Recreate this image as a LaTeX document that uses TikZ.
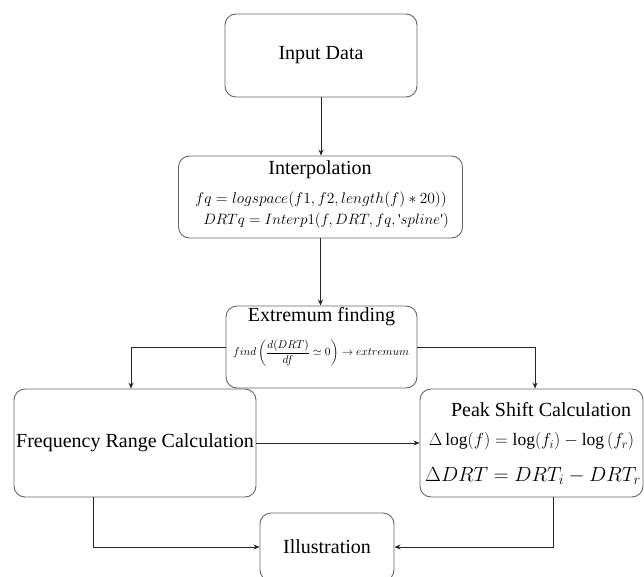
\documentclass[tikz,border=0pt]{standalone}
\usepackage{fix-cm}
\usepackage{amsmath}
\usepackage{fontspec}
\setmainfont{Liberation Serif}
\newfontfamily\titlefont{Liberation Serif}
\usetikzlibrary{arrows.meta,calc}
\begin{document}
\begin{tikzpicture}[x=1pt,y=-1pt,
  box/.style={draw=black!60, line width=0.9pt, rounded corners=11pt, inner sep=0pt},
  ttl/.style={font=\titlefont\fontsize{20}{24}\selectfont, inner sep=0pt},
  eqn/.style={inner sep=0pt},
  conn/.style={draw=black!85, line width=0.8pt, -{Stealth[length=6pt,width=5pt]}}
]
\useasboundingbox (0,0) rectangle (644,577);
% boxes
\node[box, minimum width=192pt, minimum height=83pt, ttl] (in) at (321,55.5) {Input Data};
\node[box, minimum width=284pt, minimum height=82pt] (interp) at (320.5,197) {};
\node[box, minimum width=191pt, minimum height=82pt] (ext) at (321.5,347) {};
\node[box, minimum width=242pt, minimum height=108pt, ttl] (freq) at (135,443) {Frequency Range Calculation};
\node[box, minimum width=223pt, minimum height=108pt] (peak) at (531.5,443) {};
\node[box, minimum width=134pt, minimum height=68pt, ttl] (ill) at (327,547) {Illustration};
% texts
\node[ttl] (interpT) at (320,170) {Interpolation};
\node[eqn, font=\fontsize{15.5}{18}\selectfont] (interpA) at (321,200) {$fq = logspace(f1,f2,length(f)*20))$};
\node[eqn, font=\fontsize{15}{18}\selectfont] (interpB) at (326,221) {$DRTq = Interp1(f,DRT,fq,\text{\textquotesingle}spline\text{\textquotesingle})$};
\node[ttl] (extT) at (321.5,317) {Extremum finding};
\node[eqn, font=\fontsize{11.3}{13}\selectfont] (extA) at (321,353) {$find\left(\dfrac{d(DRT)}{df}\simeq 0\right)\rightarrow extremum$};
\node[ttl] (peakT) at (541,410) {Peak Shift Calculation};
\node[eqn, font=\fontsize{17.5}{20}\selectfont] (peakA) at (531.5,441) {$\Delta\log(f)=\log(f_i)-\log{(f_r)}$};
\node[eqn, font=\fontsize{20.5}{24}\selectfont] (peakB) at (533,476) {$\Delta DRT = DRT_i - DRT_r$};
% connectors
\draw[conn] (in.south) -- (in.south |- interp.north);
\draw[conn] (interp.south) -- (interp.south |- ext.north);
\draw[conn] (ext.west) -| ([xshift=-4pt]freq.north);
\draw[conn] (ext.east) -| ([xshift=3.5pt]peak.north);
\draw[conn] (freq.east) -- (peak.west);
\draw[conn] ([xshift=-42pt]freq.south) |- (ill.west);
\draw[conn] ([xshift=21.5pt]peak.south) |- (ill.east);
\end{tikzpicture}
\end{document}
